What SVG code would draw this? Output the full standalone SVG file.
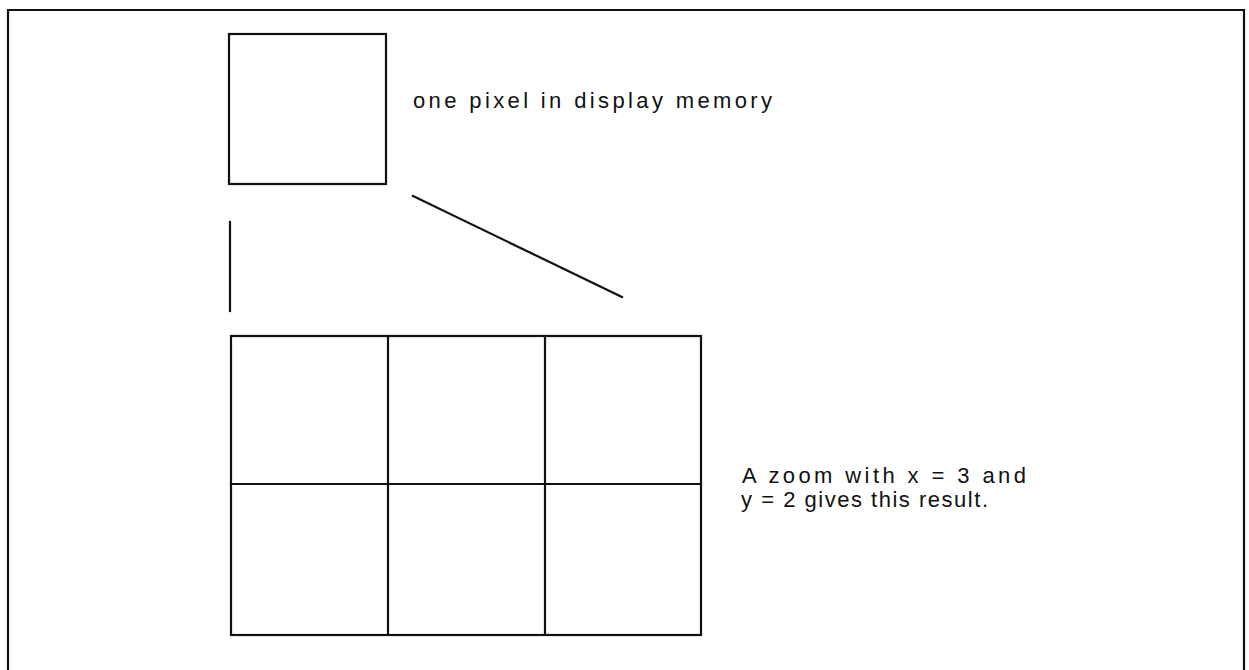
<svg xmlns="http://www.w3.org/2000/svg" width="1249" height="670" viewBox="0 0 1249 670">
  <style>
    .ln { fill: none; stroke: #111; stroke-width: 2.2; stroke-linecap: square; }
    .lbl { font-family: "Liberation Sans", Arial, sans-serif; font-size: 22px; fill: #111; }
  </style>
  <rect width="1249" height="670" fill="#fff"/>

  <!-- outer frame (open at the bottom) -->
  <path id="frame" class="ln" d="M8,672 V10 H1244 V672"/>

  <!-- a single pixel -->
  <g id="pixel">
    <rect class="ln" x="229" y="34" width="157" height="150"/>
  </g>
  <g id="pixel-label">
    <text class="lbl" x="413" y="108" textLength="359" lengthAdjust="spacing">one pixel in display memory</text>
  </g>

  <!-- connectors from the pixel to its zoomed result -->
  <g id="connectors">
    <line class="ln" x1="230" y1="222" x2="230" y2="311"/>
    <line class="ln" x1="413" y1="196" x2="622" y2="297"/>
  </g>

  <!-- zoomed pixel: 3 x 2 cells -->
  <g id="zoomed">
    <rect class="ln" x="231" y="336" width="470" height="299"/>
    <line class="ln" x1="231" y1="484" x2="701" y2="484"/>
    <line class="ln" x1="388" y1="336" x2="388" y2="635"/>
    <line class="ln" x1="545" y1="336" x2="545" y2="635"/>
  </g>
  <g id="zoom-label">
    <text class="lbl" x="742" y="483" textLength="284" lengthAdjust="spacing">A zoom with x = 3 and</text>
    <text class="lbl" x="741" y="507" textLength="247" lengthAdjust="spacing">y = 2 gives this result.</text>
  </g>
</svg>
